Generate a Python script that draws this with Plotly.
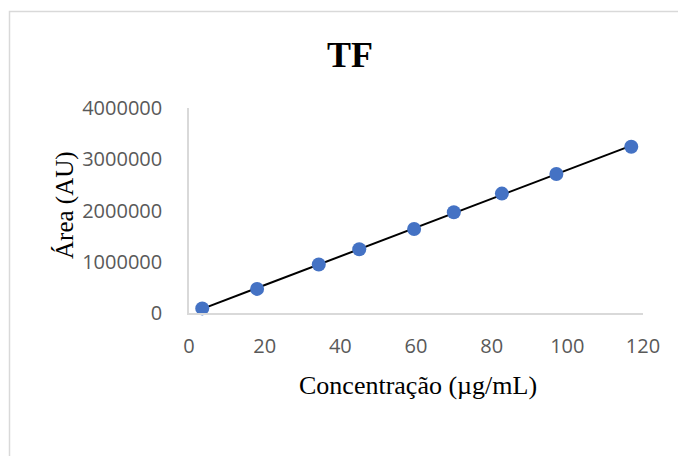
import numpy as np
import plotly.graph_objects as go

# Data
concentracao = [3.5, 18.0, 34.3, 45.0, 59.5, 70.0, 82.7, 97.1, 116.9]
area = [90000, 470000, 945000, 1245000, 1640000, 1965000, 2330000, 2712000, 3245000]

x_ticks = [0, 20, 40, 60, 80, 100, 120]
y_ticks = [0, 1000000, 2000000, 3000000, 4000000]

title_text = "<b>TF</b>"
x_title = "Concentração (µg/mL)"
y_title = "Área (AU)"

# Linear trendline from the data
slope, intercept = np.polyfit(concentracao, area, 1)
fit_x = [min(concentracao), max(concentracao)]
fit_y = [slope * v + intercept for v in fit_x]

W, H = 678, 456
L, R, T, B = 189, 35, 108, 143
pw, ph = W - L - R, H - T - B

def px(xp):
    return (xp - L) / pw

def py(yp):
    return (H - B - yp) / ph

fig = go.Figure()
fig.add_trace(go.Scatter(x=fit_x, y=fit_y, mode="lines",
                         line=dict(color="black", width=2),
                         showlegend=False, hoverinfo="skip"))
fig.add_trace(go.Scatter(x=concentracao, y=area, mode="markers",
                         marker=dict(color="#4472C4", size=14, line=dict(width=0)),
                         cliponaxis=False, showlegend=False))

tick_font = dict(family="Open Sans", size=20, color="#595959")

fig.update_xaxes(range=[0, 120], tickvals=x_ticks, showgrid=False, zeroline=False,
                 showline=True, linecolor="#d9d9d9", linewidth=1.5,
                 ticks="", tickfont=tick_font, ticklabelstandoff=14, fixedrange=True)
fig.update_yaxes(range=[0, 4000000], tickvals=y_ticks, tickformat="d", showgrid=False,
                 zeroline=False, showline=True, linecolor="#d9d9d9", linewidth=1.5,
                 ticks="", tickfont=tick_font, ticklabelstandoff=21, fixedrange=True)

serif = "Liberation Serif"
annotations = [
    dict(text=title_text, x=px(350), y=py(55), xref="paper", yref="paper",
         showarrow=False, xanchor="center", yanchor="middle",
         font=dict(family=serif, size=36, color="black")),
    dict(text=x_title, x=px(418), y=py(385), xref="paper", yref="paper",
         showarrow=False, xanchor="center", yanchor="middle",
         font=dict(family=serif, size=26, color="black")),
    dict(text=y_title, x=px(65), y=py(205), xref="paper", yref="paper",
         showarrow=False, xanchor="center", yanchor="middle", textangle=-90,
         font=dict(family=serif, size=25, color="black")),
]

shapes = [
    dict(type="rect", xref="paper", yref="paper",
         x0=px(9.5), x1=px(W + 10), y0=py(H + 10), y1=py(11.5),
         line=dict(color="#d9d9d9", width=1.5), fillcolor="rgba(0,0,0,0)", layer="below"),
]

fig.update_layout(width=W, height=H, margin=dict(l=L, r=R, t=T, b=B),
                  paper_bgcolor="white", plot_bgcolor="white",
                  annotations=annotations, shapes=shapes, showlegend=False)

fig.write_html("out.html", config={"displayModeBar": False})
